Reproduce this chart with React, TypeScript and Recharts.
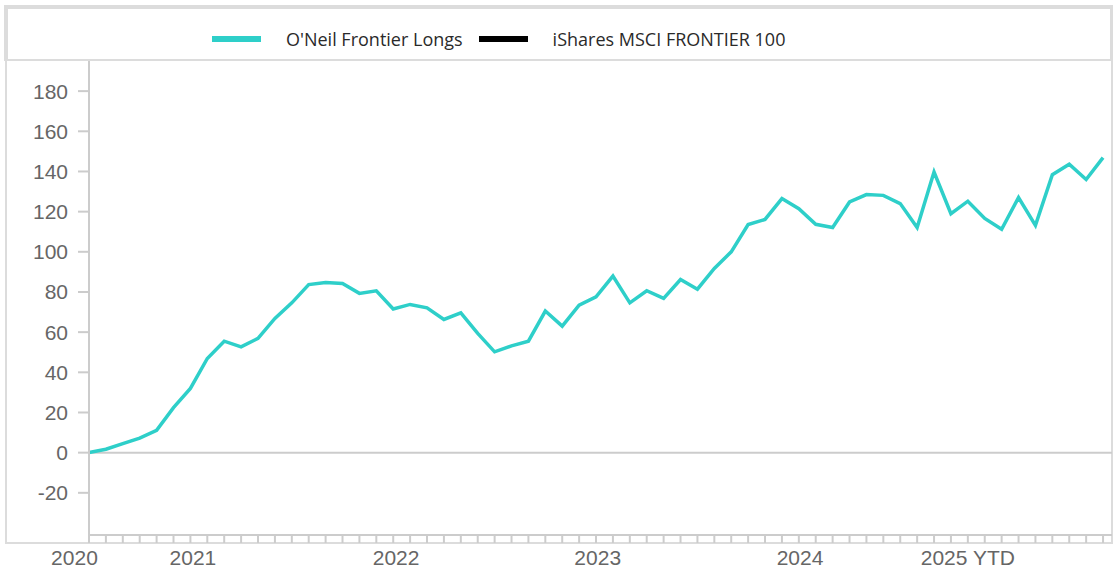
import React from 'react';
import { LineChart, Line, XAxis, YAxis, ReferenceLine } from 'recharts';

// O'Neil Frontier Longs, cumulative return (%), one point per month
const longsValues: number[] = [
  0, 1.7, 4.5, 7.2, 11.1, 22.4, 32.0, 46.9, 55.5, 52.7,
  56.9, 66.8, 74.6, 83.7, 84.7, 84.2, 79.3, 80.6, 71.5, 73.8,
  72.1, 66.3, 69.6, 59.4, 50.2, 53.2, 55.5, 70.5, 63.0, 73.4,
  77.6, 87.9, 74.6, 80.6, 76.8, 86.2, 81.4, 91.7, 100.0, 113.6,
  116.1, 126.5, 121.5, 113.7, 112.1, 124.8, 128.5, 128.1, 124.0, 112.1,
  139.7, 119.0, 125.2, 116.6, 111.2, 127.0, 113.2, 138.4, 143.6, 136.0,
  146.9,
];

const seriesNames = ["O'Neil Frontier Longs", 'iShares MSCI FRONTIER 100'];
const seriesColors = ['#2ecfc9', '#000000'];

const yTicks = [-20, 0, 20, 40, 60, 80, 100, 120, 140, 160, 180];
const yDomain: [number, number] = [-41, 195];

const yearLabels = ['2020', '2021', '2022', '2023', '2024', '2025 YTD'];
const yearLabelPositions = [-0.86, 6.15, 18.17, 30.1, 42.07, 52.0];

const data = longsValues.map((v, i) => ({ i, longs: v }));
const monthTicks = longsValues.map((_, i) => i);
const xDomain: [number, number] = [0, longsValues.length - 1 + 0.53];

const tickFont = { fill: '#666666', fontSize: 21, fontFamily: '"Liberation Sans", Arial, sans-serif' };
const gridGray = '#cccccc';
const boxGray = '#dcdcdc';

export default function App() {
  return (
    <div style={{ position: 'absolute', left: 0, top: 0, width: 1118, height: 579, background: '#ffffff' }}>
      {/* legend box */}
      <div
        style={{
          position: 'absolute', left: 4, top: 5, width: 1109, height: 56, boxSizing: 'border-box',
          borderTop: `4px solid ${boxGray}`, borderLeft: `4px solid ${boxGray}`, borderRight: `3px solid ${boxGray}`,
          borderBottom: `2px solid ${boxGray}`,
          display: 'flex', alignItems: 'center', paddingLeft: 204,
          fontFamily: '"Open Sans", sans-serif', fontSize: 18, color: '#2a2a2a',
        }}
      >
        {seriesNames.map((name, k) => (
          <div key={name} style={{ display: 'flex', alignItems: 'center', marginRight: 16, marginTop: 10 }}>
            <div style={{ width: 49, height: 6, background: seriesColors[k], marginRight: 25 }} />
            <span style={{ whiteSpace: 'nowrap' }}>{name}</span>
          </div>
        ))}
      </div>
      {/* plot box */}
      <div
        style={{
          position: 'absolute', left: 5, top: 61, width: 1108, height: 483, boxSizing: 'border-box',
          borderLeft: `2px solid ${boxGray}`, borderRight: `2px solid ${boxGray}`, borderBottom: `2px solid ${boxGray}`,
        }}
      />
      <div style={{ position: 'absolute', left: 0, top: 0 }}>
        <LineChart width={1118} height={579} data={data} margin={{ top: 61, right: 6, left: 0, bottom: 0 }}>
          <YAxis
            type="number"
            domain={yDomain}
            ticks={yTicks}
            interval={0}
            allowDataOverflow
            width={89}
            tickSize={11}
            tickMargin={10}
            tick={tickFont}
            axisLine={{ stroke: gridGray, strokeWidth: 2 }}
            tickLine={{ stroke: gridGray, strokeWidth: 2 }}
          />
          <XAxis
            xAxisId="months"
            type="number"
            dataKey="i"
            domain={xDomain}
            ticks={monthTicks}
            interval={0}
            allowDataOverflow
            height={8}
            tickSize={8}
            tickFormatter={() => ''}
            axisLine={{ stroke: gridGray, strokeWidth: 2 }}
            tickLine={{ stroke: gridGray, strokeWidth: 2 }}
          />
          <XAxis
            xAxisId="years"
            type="number"
            dataKey="i"
            domain={xDomain}
            ticks={yearLabelPositions}
            interval={0}
            allowDataOverflow
            height={36}
            tickSize={0}
            tickMargin={7}
            tick={tickFont}
            tickFormatter={(v: number) => {
              const k = yearLabelPositions.indexOf(v);
              return k >= 0 ? yearLabels[k] : '';
            }}
            axisLine={false}
            tickLine={false}
          />
          <ReferenceLine y={0} xAxisId="months" stroke={gridGray} strokeWidth={2} />
          <Line
            xAxisId="months"
            type="linear"
            dataKey="longs"
            name={seriesNames[0]}
            stroke={seriesColors[0]}
            strokeWidth={3.5}
            dot={false}
            activeDot={false}
            isAnimationActive={false}
          />
        </LineChart>
      </div>
    </div>
  );
}
